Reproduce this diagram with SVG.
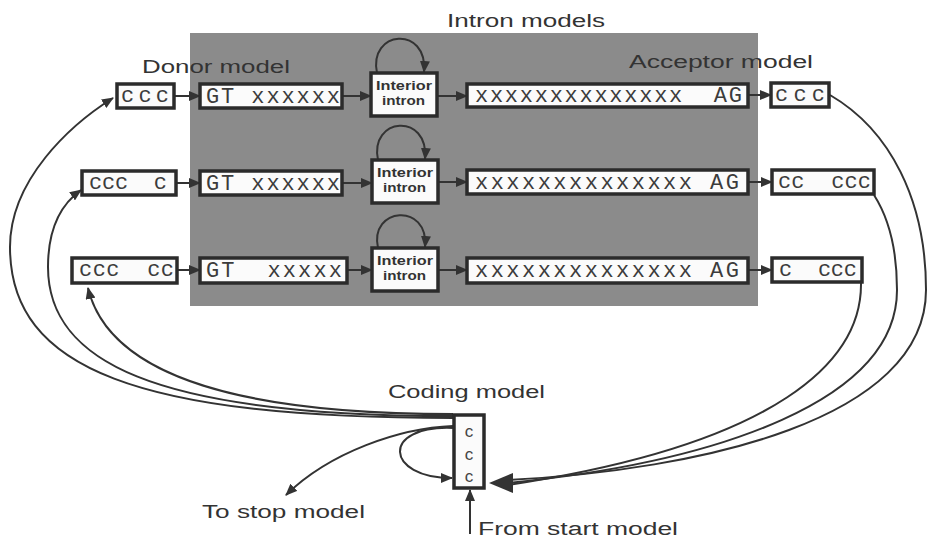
<svg xmlns="http://www.w3.org/2000/svg" width="928" height="542" viewBox="0 0 928 542">
<defs>
  <marker id="ah" markerUnits="userSpaceOnUse" markerWidth="12" markerHeight="10" refX="11" refY="5" orient="auto">
    <path d="M0,0 L12,5 L0,10 z" fill="#333"/>
  </marker>
  <style>
    .box{fill:#fbfbfb;stroke:#2b2b2b;stroke-width:3.5}
    .mono{font-family:"Liberation Mono","Courier New",monospace;font-size:22px;fill:#3c3c3c;white-space:pre}
    .lbl{font-family:"Liberation Sans",Arial,sans-serif;font-size:18px;fill:#333}
    .intr{font-family:"Liberation Sans",Arial,sans-serif;font-size:12px;font-weight:bold;fill:#333}
    .cod{font-family:"Liberation Sans",Arial,sans-serif;font-size:17px;fill:#444}
    .ln{fill:none;stroke:#333;stroke-width:2}
  </style>
</defs>
<rect width="928" height="542" fill="#fff"/>
<rect id="intron-panel" x="190" y="33" width="568" height="273" fill="#8b8b8b"/>

<g id="labels">
  <text class="lbl" x="447" y="27" textLength="158" lengthAdjust="spacingAndGlyphs">Intron models</text>
  <text class="lbl" x="142" y="73" textLength="148" lengthAdjust="spacingAndGlyphs">Donor model</text>
  <text class="lbl" x="629" y="68" textLength="184" lengthAdjust="spacingAndGlyphs">Acceptor model</text>
  <text class="lbl" x="388" y="398" textLength="157" lengthAdjust="spacingAndGlyphs">Coding model</text>
  <text class="lbl" x="202" y="518" textLength="163" lengthAdjust="spacingAndGlyphs">To stop model</text>
  <text class="lbl" x="478" y="535" textLength="200" lengthAdjust="spacingAndGlyphs">From start model</text>
</g>

<g id="connectors">
  <!-- row 1 -->
  <line class="ln" x1="174" y1="96" x2="200" y2="96" marker-end="url(#ah)"/>
  <line class="ln" x1="342" y1="96" x2="371" y2="96" marker-end="url(#ah)"/>
  <line class="ln" x1="438" y1="96" x2="467" y2="96" marker-end="url(#ah)"/>
  <line class="ln" x1="748" y1="95" x2="771" y2="95" marker-end="url(#ah)"/>
  <path class="ln" d="M377,73 C368,30 428,25 424,72" marker-end="url(#ah)"/>
  <!-- row 2 -->
  <line class="ln" x1="176" y1="183" x2="200" y2="183" marker-end="url(#ah)"/>
  <line class="ln" x1="342" y1="183" x2="372" y2="183" marker-end="url(#ah)"/>
  <line class="ln" x1="439" y1="182" x2="467" y2="182" marker-end="url(#ah)"/>
  <line class="ln" x1="748" y1="182" x2="772" y2="182" marker-end="url(#ah)"/>
  <path class="ln" d="M378,160 C369,117 429,112 425,159" marker-end="url(#ah)"/>
  <!-- row 3 -->
  <line class="ln" x1="177" y1="270" x2="200" y2="270" marker-end="url(#ah)"/>
  <line class="ln" x1="347" y1="270" x2="372" y2="270" marker-end="url(#ah)"/>
  <line class="ln" x1="439" y1="270" x2="467" y2="270" marker-end="url(#ah)"/>
  <line class="ln" x1="748" y1="270" x2="772" y2="270" marker-end="url(#ah)"/>
  <path class="ln" d="M378,248 C369,207 429,202 425,247" marker-end="url(#ah)"/>
  <!-- coding to donor boxes -->
  <path class="ln" d="M453,418 C140,418 10,370 10,247 C10,180 70,125 113,98" marker-end="url(#ah)"/>
  <path class="ln" d="M453,416 C150,416 48,360 48,267 C48,230 60,205 81,190" marker-end="url(#ah)"/>
  <path class="ln" d="M453,414 C250,414 110,380 88,288" marker-end="url(#ah)"/>
  <!-- acceptor boxes to coding -->
  <path class="ln" d="M830,95 C890,130 926,200 926,290 C926,420 700,470 508,480"/>
  <path class="ln" d="M874,195 C890,220 897,250 897,290 C897,400 720,462 508,483"/>
  <path class="ln" d="M861,283 C862,360 780,444 508,485"/>
  <polygon points="489,483 513,473 513,493" fill="#333"/>
  <!-- coding self loop -->
  <path class="ln" d="M453,428 C380,425 385,478 452,478" marker-end="url(#ah)"/>
  <!-- to stop -->
  <path class="ln" d="M453,426 C400,428 330,452 286,495" marker-end="url(#ah)"/>
  <!-- from start -->
  <line class="ln" x1="470" y1="534" x2="470" y2="490" marker-end="url(#ah)"/>
</g>

<g id="donor-1"><rect class="box" x="117" y="84" width="57" height="24"/><text class="mono" x="121" y="102" textLength="48" lengthAdjust="spacing">ccc</text></g>
<g id="donor-2"><rect class="box" x="82" y="171" width="94" height="24"/><text class="mono" x="89" y="189" textLength="78" lengthAdjust="spacing">ccc  c</text></g>
<g id="donor-3"><rect class="box" x="72" y="258" width="105" height="25"/><text class="mono" x="79" y="276" textLength="95" lengthAdjust="spacing">ccc  cc</text></g>

<g id="gt-1"><rect class="box" x="200" y="84" width="142" height="24"/><text class="mono" x="206" y="103" textLength="134" lengthAdjust="spacing">GT xxxxxx</text></g>
<g id="gt-2"><rect class="box" x="200" y="171" width="142" height="24"/><text class="mono" x="206" y="190" textLength="134" lengthAdjust="spacing">GT xxxxxx</text></g>
<g id="gt-3"><rect class="box" x="200" y="258" width="147" height="25"/><text class="mono" x="206" y="277" textLength="136" lengthAdjust="spacing">GT  xxxxx</text></g>

<g id="intron-1"><rect class="box" x="371" y="73" width="66" height="43"/><text class="intr" x="376" y="90" textLength="56" lengthAdjust="spacingAndGlyphs">Interior</text><text class="intr" x="382" y="105" textLength="43" lengthAdjust="spacingAndGlyphs">intron</text></g>
<g id="intron-2"><rect class="box" x="372" y="160" width="66" height="43"/><text class="intr" x="377" y="177" textLength="56" lengthAdjust="spacingAndGlyphs">Interior</text><text class="intr" x="383" y="192" textLength="43" lengthAdjust="spacingAndGlyphs">intron</text></g>
<g id="intron-3"><rect class="box" x="372" y="248" width="66" height="43"/><text class="intr" x="377" y="265" textLength="56" lengthAdjust="spacingAndGlyphs">Interior</text><text class="intr" x="383" y="280" textLength="43" lengthAdjust="spacingAndGlyphs">intron</text></g>

<g id="acceptor-1"><rect class="box" x="467" y="84" width="281" height="23"/><text class="mono" x="475" y="102" textLength="267" lengthAdjust="spacing">xxxxxxxxxxxxxx  AG</text></g>
<g id="acceptor-2"><rect class="box" x="467" y="170" width="281" height="24"/><text class="mono" x="475" y="189" textLength="264" lengthAdjust="spacing">xxxxxxxxxxxxxx AG</text></g>
<g id="acceptor-3"><rect class="box" x="467" y="258" width="281" height="25"/><text class="mono" x="475" y="277" textLength="264" lengthAdjust="spacing">xxxxxxxxxxxxxx AG</text></g>

<g id="exit-1"><rect class="box" x="771" y="83" width="58" height="24"/><text class="mono" x="775" y="101" textLength="50" lengthAdjust="spacing">ccc</text></g>
<g id="exit-2"><rect class="box" x="772" y="170" width="102" height="24"/><text class="mono" x="778" y="188" textLength="93" lengthAdjust="spacing">cc  ccc</text></g>
<g id="exit-3"><rect class="box" x="772" y="258" width="90" height="24"/><text class="mono" x="779" y="276" textLength="78" lengthAdjust="spacing">c  ccc</text></g>

<g id="coding"><rect class="box" x="454" y="415" width="30" height="73"/>
  <text class="cod" x="469" y="437" text-anchor="middle">c</text>
  <text class="cod" x="469" y="460" text-anchor="middle">c</text>
  <text class="cod" x="469" y="482" text-anchor="middle">c</text>
</g>
</svg>
